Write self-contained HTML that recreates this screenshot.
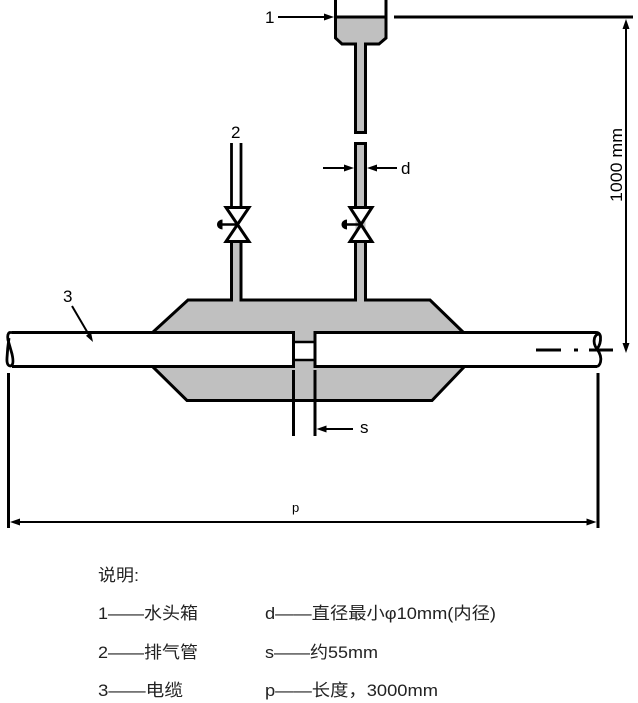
<!DOCTYPE html>
<html><head><meta charset="utf-8"><style>
html,body{margin:0;padding:0;background:#fff;}
svg{display:block;}
.lbl{font-family:"Liberation Sans",Arial,sans-serif;fill:#000;}
.lg{font-family:"Liberation Sans","Noto Sans CJK SC",sans-serif;fill:#222;font-size:17px;}
</style></head><body>
<svg width="638" height="703" viewBox="0 0 638 703" xmlns="http://www.w3.org/2000/svg">
<rect width="638" height="703" fill="#fff"/>

<!-- Water tank -->
<path d="M335.5 17 L335.5 38 L342 44 L355.5 44 L355.5 132 L365.5 132 L365.5 44 L379 44 L386 38 L386 17 Z" fill="#c0c0c0"/>
<path d="M335.5 0 L335.5 38 L342 44 L355.5 44 L355.5 132.5 L365.5 132.5 L365.5 44 L379 44 L386 38 L386 0" fill="none" stroke="#000" stroke-width="3"/>
<line x1="335.5" y1="17" x2="386" y2="17" stroke="#000" stroke-width="3"/>

<!-- reference line -->
<line x1="394" y1="17" x2="633" y2="17" stroke="#000" stroke-width="3"/>

<!-- label 1 arrow -->
<text class="lbl" x="265" y="23" font-size="17">1</text>
<line x1="278" y1="17" x2="326" y2="17" stroke="#000" stroke-width="2"/>
<polygon points="334,17 324,13.5 324,20.5" fill="#000"/>

<!-- body fill -->
<polygon points="153,332 188,300 431,300 464,332 464,367 432,400.5 187,400.5 152,367" fill="#c0c0c0"/>
<rect x="231.5" y="240" width="9.5" height="62" fill="#c0c0c0"/>
<rect x="355.5" y="143" width="10" height="159" fill="#c0c0c0"/>

<!-- water lower pipe top part -->
<path d="M355.5 208 L355.5 143.5 L365.5 143.5 L365.5 208" fill="none" stroke="#000" stroke-width="3"/>

<!-- exhaust pipe upper (white) -->
<line x1="231.5" y1="143" x2="231.5" y2="208" stroke="#000" stroke-width="2.8"/>
<line x1="241" y1="143" x2="241" y2="208" stroke="#000" stroke-width="2.8"/>

<!-- body outline -->
<path d="M152 333 L188 300 L231.5 300 L231.5 241" fill="none" stroke="#000" stroke-width="3"/>
<path d="M241 241 L241 300 L355.5 300 L355.5 241" fill="none" stroke="#000" stroke-width="3"/>
<path d="M365.5 241 L365.5 300 L430 300 L464 333" fill="none" stroke="#000" stroke-width="3"/>
<path d="M152 366 L187 400.5 L432 400.5 L465 366" fill="none" stroke="#000" stroke-width="3"/>

<!-- valves -->
<path d="M226 207.5 L249 207.5 L226 241.5 L249 241.5 Z" fill="#fff" stroke="#000" stroke-width="3" stroke-linejoin="miter"/>
<line x1="222" y1="224.5" x2="237.5" y2="224.5" stroke="#000" stroke-width="2.5"/>
<path d="M222.5 219.5 A5.5 5 0 0 0 222.5 229.5 Z" fill="#000"/>

<path d="M350 207.5 L372 207.5 L350 241.5 L372 241.5 Z" fill="#fff" stroke="#000" stroke-width="3" stroke-linejoin="miter"/>
<line x1="346" y1="224.5" x2="361" y2="224.5" stroke="#000" stroke-width="2.5"/>
<path d="M347 219.5 A5.5 5 0 0 0 347 229.5 Z" fill="#000"/>

<!-- label 2 -->
<text class="lbl" x="231" y="138" font-size="17">2</text>

<!-- d arrows -->
<line x1="323" y1="168" x2="346" y2="168" stroke="#000" stroke-width="2"/>
<polygon points="354,168 344,164.5 344,171.5" fill="#000"/>
<line x1="397" y1="168" x2="375" y2="168" stroke="#000" stroke-width="2"/>
<polygon points="367,168 377,164.5 377,171.5" fill="#000"/>
<text class="lbl" x="401" y="174" font-size="17">d</text>

<!-- cable -->
<rect x="8" y="332" width="285.5" height="35" fill="#fff"/>
<rect x="315" y="332" width="284" height="35" fill="#fff"/>
<rect x="293.5" y="342" width="21.5" height="18" fill="#fff"/>
<line x1="293.5" y1="342" x2="315" y2="342" stroke="#000" stroke-width="2.5"/>
<line x1="293.5" y1="360" x2="315" y2="360" stroke="#000" stroke-width="2.5"/>
<path d="M12 332.5 L293.5 332.5 L293.5 366.5 L12 366.5" fill="none" stroke="#000" stroke-width="3"/>
<path d="M596 332.5 L315 332.5 L315 366.5 L597 366.5" fill="none" stroke="#000" stroke-width="3"/>
<!-- left break -->
<path d="M13 332.5 L9.5 332.5 Q7 334 8 340 L12 354 Q14.5 365 10.5 366 Q6.5 366 7 358 Q7.5 348 9 338" fill="none" stroke="#000" stroke-width="2.8"/>
<!-- right break -->
<path d="M595 332.5 Q600 332 600.5 337 Q601 344 597 349 Q593 344 594.5 338 Q596 334 599 334 M597 349 Q602 356 600.5 362 Q599.5 366.5 596 366.5" fill="none" stroke="#000" stroke-width="2.8"/>

<!-- centerline -->
<line x1="536" y1="350" x2="561" y2="350" stroke="#000" stroke-width="3"/>
<line x1="574" y1="350" x2="578" y2="350" stroke="#000" stroke-width="3"/>
<line x1="589" y1="350" x2="613" y2="350" stroke="#000" stroke-width="3"/>

<!-- label 3 leader -->
<text class="lbl" x="63" y="302" font-size="17">3</text>
<line x1="72" y1="306" x2="89" y2="335" stroke="#000" stroke-width="2"/>
<polygon points="93,342 85.9,335.7 91.1,332.7" fill="#000"/>

<!-- s lines -->
<line x1="293.5" y1="370" x2="293.5" y2="436" stroke="#000" stroke-width="3"/>
<line x1="315" y1="370" x2="315" y2="436" stroke="#000" stroke-width="3"/>
<line x1="353" y1="429" x2="324" y2="429" stroke="#000" stroke-width="2"/>
<polygon points="316.5,429 326.5,425.5 326.5,432.5" fill="#000"/>
<text class="lbl" x="360" y="433" font-size="17">s</text>

<!-- 1000 mm vertical dim -->
<line x1="626" y1="27" x2="626" y2="345" stroke="#000" stroke-width="2"/>
<polygon points="626,19 622.5,29 629.5,29" fill="#000"/>
<polygon points="626,353 622.5,343 629.5,343" fill="#000"/>
<text class="lbl" x="622" y="165" font-size="17" text-anchor="middle" transform="rotate(-90 622 165)" textLength="74" lengthAdjust="spacingAndGlyphs">1000 mm</text>

<!-- p dim -->
<line x1="8.5" y1="373" x2="8.5" y2="528" stroke="#000" stroke-width="3"/>
<line x1="598" y1="373" x2="598" y2="528" stroke="#000" stroke-width="3"/>
<line x1="18" y1="522" x2="588" y2="522" stroke="#000" stroke-width="2"/>
<polygon points="10,522 20,518.5 20,525.5" fill="#000"/>
<polygon points="596.5,522 586.5,518.5 586.5,525.5" fill="#000"/>
<text class="lbl" x="292" y="512" font-size="13">p</text>

<!-- legend -->
<text class="lg" x="98" y="581" textLength="41" lengthAdjust="spacingAndGlyphs">说明:</text>
<text class="lg" x="98" y="619" textLength="100" lengthAdjust="spacingAndGlyphs">1——水头箱</text>
<text class="lg" x="98" y="658" textLength="100" lengthAdjust="spacingAndGlyphs">2——排气管</text>
<text class="lg" x="98" y="696" textLength="85" lengthAdjust="spacingAndGlyphs">3——电缆</text>
<text class="lg" x="265" y="619" textLength="231" lengthAdjust="spacingAndGlyphs">d——直径最小φ10mm(内径)</text>
<text class="lg" x="265" y="658" textLength="113" lengthAdjust="spacingAndGlyphs">s——约55mm</text>
<text class="lg" x="265" y="696" textLength="173" lengthAdjust="spacingAndGlyphs">p——长度，3000mm</text>
</svg>
</body></html>
